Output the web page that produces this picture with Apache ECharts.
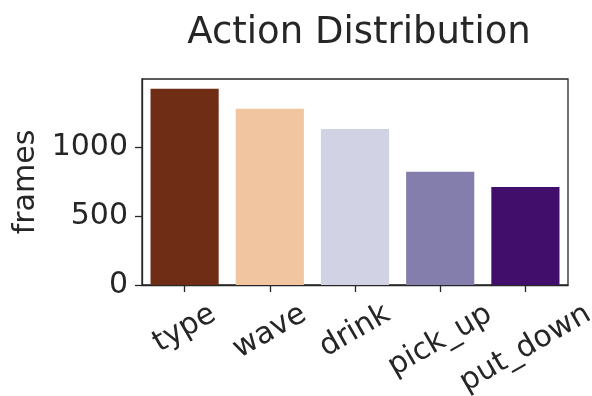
<!DOCTYPE html>
<html>
<head>
<meta charset="utf-8">
<script src="https://cdn.jsdelivr.net/npm/echarts@6/dist/echarts.min.js"></script>
<style>
html,body{margin:0;padding:0;background:#fff;}
#chart{width:592px;height:396px;}
</style>
</head>
<body>
<div id="chart"></div>
<script>
var categories = ['type', 'wave', 'drink', 'pick_up', 'put_down'];
var frames = [1420, 1275, 1130, 819, 710];
var barColors = ['#702d15', '#f0c59f', '#d2d2e5', '#847ead', '#410f6b'];
var yTicks = [0, 500, 1000];

var FONT = 'DejaVu Sans';
var LABEL_SIZE = 30;
var dark = '#262626';
var ROT = 30 * Math.PI / 180;
var ctx = document.createElement('canvas').getContext('2d');
ctx.font = LABEL_SIZE + 'px "' + FONT + '"';

// emulate matplotlib rotation=30, ha='center' (bbox top at fixed distance)
var rich = {};
categories.forEach(function (c, i) {
  var w = ctx.measureText(c).width;
  var H = w * Math.sin(ROT) + LABEL_SIZE * Math.cos(ROT);
  var d = H / 2;
  rich['c' + i] = {
    fontFamily: FONT, fontSize: LABEL_SIZE, color: dark, lineHeight: LABEL_SIZE,
    padding: [2 * Math.cos(ROT) * d, 2 * Math.sin(ROT) * d, 0, 0]
  };
});

var chart = echarts.init(document.getElementById('chart'), null, { renderer: 'canvas' });
chart.setOption({
  animation: false,
  backgroundColor: '#ffffff',
  title: {
    text: 'Action Distribution',
    left: 354,
    top: 10,
    textAlign: 'center',
    textStyle: { fontFamily: FONT, fontSize: 37, fontWeight: 'normal', color: dark }
  },
  grid: {
    left: 142, right: 24, top: 79, bottom: 111,
    outerBoundsMode: 'none', containLabel: false,
    show: true, borderColor: dark, borderWidth: 1.3, backgroundColor: 'transparent'
  },
  xAxis: {
    type: 'category',
    data: categories,
    axisLine: { lineStyle: { color: dark, width: 1.3 } },
    axisTick: { show: true, alignWithLabel: true, length: 7, lineStyle: { color: dark, width: 1.3 } },
    axisLabel: {
      interval: 0, rotate: 30, align: 'center', verticalAlign: 'middle',
      margin: 14, hideOverlap: false,
      fontFamily: FONT, fontSize: LABEL_SIZE, color: dark,
      formatter: function (v, i) { return '{c' + i + '|' + v + '}'; },
      rich: rich
    }
  },
  yAxis: {
    type: 'value',
    min: 0,
    max: function (v) { return v.max * 1.05; },
    interval: 500,
    name: 'frames',
    nameLocation: 'middle',
    nameGap: 99,
    nameTextStyle: { fontFamily: FONT, fontSize: LABEL_SIZE, color: dark },
    splitLine: { show: false },
    axisLine: { show: true, lineStyle: { color: dark, width: 1.3 } },
    axisTick: { show: true, length: 7, lineStyle: { color: dark, width: 1.3 } },
    axisLabel: {
      margin: 14, fontFamily: FONT, fontSize: LABEL_SIZE, color: dark,
      showMaxLabel: false,
      formatter: function (v) { return yTicks.indexOf(v) >= 0 ? String(v) : ''; }
    }
  },
  series: [{
    type: 'bar',
    data: frames.map(function (v, i) { return { value: v, itemStyle: { color: barColors[i] } }; }),
    barCategoryGap: '20%'
  }]
});
</script>
</body>
</html>
